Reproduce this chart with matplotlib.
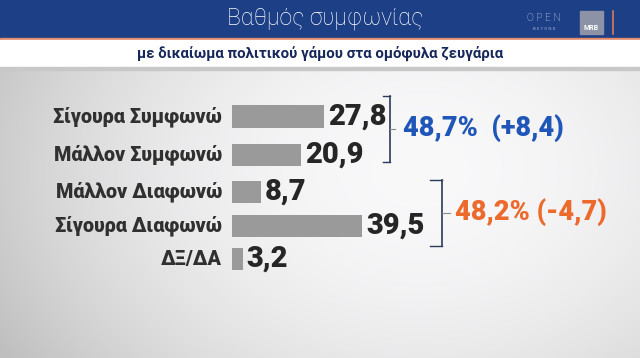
import numpy as np
import matplotlib
matplotlib.use("Agg")
import matplotlib.pyplot as plt
from matplotlib import font_manager as fm
from matplotlib.patches import Rectangle

# ---- data ----
categories = ["Σίγουρα Συμφωνώ", "Μάλλον Συμφωνώ", "Μάλλον Διαφωνώ", "Σίγουρα Διαφωνώ", "ΔΞ/ΔΑ"]
values = [27.8, 20.9, 8.7, 39.5, 3.2]
value_labels = ["27,8", "20,9", "8,7", "39,5", "3,2"]
group_labels = ["48,7%  (+8,4)", "48,2% (-4,7)"]
title = "Βαθμός συμφωνίας"
subtitle = "με δικαίωμα πολιτικού γάμου στα ομόφυλα ζευγάρια"

# ---- fonts ----
names = {f.name for f in fm.fontManager.ttflist}
base = "Roboto" if "Roboto" in names else "DejaVu Sans"
plt.rcParams["font.family"] = [base, "DejaVu Sans"]

W, H = 640, 358
fig = plt.figure(figsize=(6.4, 3.58), dpi=100)

# overlay axes in pixel coordinates
ax0 = fig.add_axes([0, 0, 1, 1])
ax0.set_xlim(0, W)
ax0.set_ylim(H, 0)
ax0.axis("off")

# background gradient
yy, xx = np.mgrid[0:H, 0:W]
g = 0.975 - 0.17 * (((xx - 420) / 420.0) ** 2) - 0.07 * (((yy - 170) / 200.0) ** 2)
g = np.clip(g, 0.75, 0.975)
bg = np.dstack([g, g, g + 0.005])
ax0.imshow(np.clip(bg, 0, 1), extent=(0, W, H, 0), aspect="auto", zorder=0)

# header
ax0.add_patch(Rectangle((0, 0), W, 37.5, color="#1c3f85", zorder=1))
ax0.add_patch(Rectangle((0, 37.5), W, 2.2, color="#e2896a", zorder=1))
ax0.add_patch(Rectangle((0, 39.7), W, 27.5, color="#ffffff", zorder=1))
ax0.add_patch(Rectangle((0, 67.2), W, 2.5, color="#c8c8c8", zorder=1))
ax0.text(325, 19, title, color="white", fontsize=16.5, fontweight="light",
         ha="center", va="center", zorder=2)
ax0.text(320, 53, subtitle, color="#16275a", fontsize=10.8, fontweight="bold",
         ha="center", va="center", zorder=2)

# logos
ax0.text(544, 18, "O P E N", color="#dfe6f5", fontsize=7.5, fontweight="light",
         ha="center", va="center", zorder=2)
ax0.text(544, 29, "B E Y O N D", color="#9fb0d6", fontsize=3.2, ha="center", va="center", zorder=2)
ax0.add_patch(Rectangle((580, 11), 23, 23, color="#8d93a6", zorder=2))
ax0.text(591.5, 28, "MRB", color="white", fontsize=5, fontweight="bold",
         ha="center", va="center", zorder=3)
ax0.plot([613, 613], [11, 34], color="#d97a5a", lw=1.2, zorder=2)

# bars axes
x0_px = 232
px_per_unit = 3.3
ax = fig.add_axes([x0_px / W, 0, (W - x0_px) / W, 1])
ax.set_xlim(0, (W - x0_px) / px_per_unit)
ax.set_ylim(H, 0)
ax.axis("off")
ax.patch.set_alpha(0)

ypos = [116.5, 155, 192, 226, 259]
bar_h = 22.5
ax.barh(ypos, values, height=bar_h, color="#9a9a9a", left=0, zorder=3)

for y, v, lab, cat in zip(ypos, values, value_labels, categories):
    ax.annotate(lab, xy=(v, y), xytext=(4, 0), textcoords="offset pixels",
                ha="left", va="center", fontsize=21, fontweight="heavy",
                color="#262626", zorder=4)
    ax.annotate(cat, xy=(0, y), xytext=(-10, 0), textcoords="offset pixels",
                ha="right", va="center", fontsize=14.2, fontweight="heavy",
                color="#303030", zorder=4)

# brackets (pixel coords)
brackets = [
    dict(x=390, top=96, bot=162, left=7, mid=129, right=5, color="#1f56b8", tx=403),
    dict(x=442, top=180, bot=246, left=12, mid=213, right=8, color="#ec6a2c", tx=455),
]
for b, lab in zip(brackets, group_labels):
    c = "#2c3a5a"
    ax0.plot([b["x"], b["x"]], [b["top"], b["bot"]], color=c, lw=1.2, zorder=3)
    ax0.plot([b["x"] - b["left"], b["x"]], [b["top"], b["top"]], color=c, lw=1.0, zorder=3)
    ax0.plot([b["x"] - b["left"], b["x"]], [b["bot"], b["bot"]], color=c, lw=1.0, zorder=3)
    ax0.plot([b["x"], b["x"] + b["right"]], [b["mid"], b["mid"]], color="#8a8a8a", lw=0.8, zorder=3)
    ax0.text(b["tx"], b["mid"] - 1, lab, color=b["color"], fontsize=19.5, fontweight="heavy",
             ha="left", va="center", zorder=3)

fig.savefig("out.png", dpi=100)
